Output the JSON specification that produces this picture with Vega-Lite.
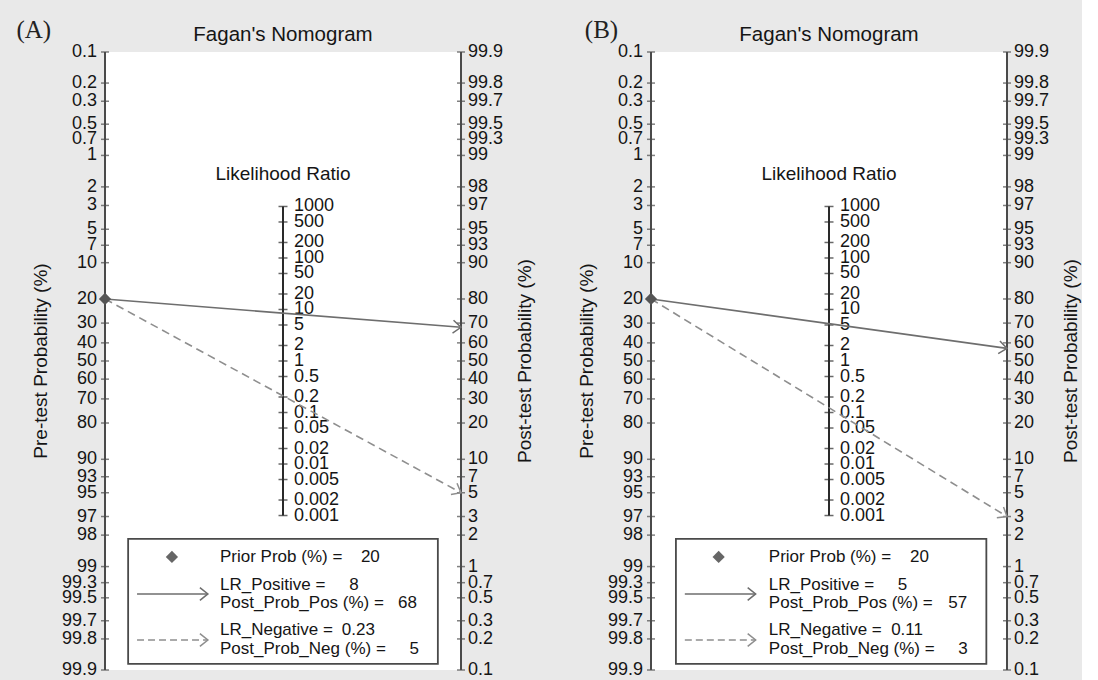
{
  "$schema": "https://vega.github.io/schema/vega-lite/v6.json",
  "padding": {"left": 16, "top": 18, "right": 0, "bottom": 0},
  "background": "#e9e9e9",
  "config": {"view": {"fill": "white", "stroke": null}, "font": "Liberation Sans"},
  "spacing": 41,
  "datasets": {
    "one": [{}],
    "probTicks": [{"p":0.1},{"p":0.2},{"p":0.3},{"p":0.5},{"p":0.7},{"p":1},{"p":2},{"p":3},{"p":5},{"p":7},{"p":10},{"p":20},{"p":30},{"p":40},{"p":50},{"p":60},{"p":70},{"p":80},{"p":90},{"p":93},{"p":95},{"p":97},{"p":98},{"p":99},{"p":99.3},{"p":99.5},{"p":99.7},{"p":99.8},{"p":99.9}],
    "lrTicks": [{"lr":1000},{"lr":500},{"lr":200},{"lr":100},{"lr":50},{"lr":20},{"lr":10},{"lr":5},{"lr":2},{"lr":1},{"lr":0.5},{"lr":0.2},{"lr":0.1},{"lr":0.05},{"lr":0.02},{"lr":0.01},{"lr":0.005},{"lr":0.002},{"lr":0.001}],
    "resA": [{"test":"pos","lr":8,"pre":20,"post":68},{"test":"neg","lr":0.23,"pre":20,"post":5}],
    "resB": [{"test":"pos","lr":5,"pre":20,"post":57},{"test":"neg","lr":0.11,"pre":20,"post":3}]
  },
  "hconcat": [
    {
      "width": 356, "height": 618,
      "layer": [
        {"data":{"name":"probTicks"},"transform":[{"calculate":"log(datum.p/(100-datum.p))","as":"v"}],
         "mark":{"type":"rule","color":"#4a4a4a","strokeWidth":2},
         "encoding":{"x":{"datum":0,"type":"quantitative","scale":{"domain":[0,1],"nice":false,"zero":false},"axis":null},
           "y":{"aggregate":"min","field":"v","type":"quantitative","scale":{"domain":[-6.90675,6.90675],"nice":false,"zero":false},"axis":null},
           "y2":{"aggregate":"max","field":"v"}}},
        {"data":{"name":"probTicks"},"transform":[{"calculate":"log(datum.p/(100-datum.p))","as":"v"}],
         "mark":{"type":"rule","color":"#4a4a4a","strokeWidth":2},
         "encoding":{"x":{"datum":1,"type":"quantitative","scale":{"domain":[0,1],"nice":false,"zero":false},"axis":null},
           "y":{"aggregate":"min","field":"v","type":"quantitative","scale":{"domain":[-6.90675,6.90675],"nice":false,"zero":false},"axis":null},
           "y2":{"aggregate":"max","field":"v"}}},
        {"data":{"name":"lrTicks"},"transform":[{"calculate":"log(datum.lr)/2","as":"v"}],
         "mark":{"type":"rule","color":"#2a2a2a","strokeWidth":2},
         "encoding":{"x":{"datum":0.5,"type":"quantitative","scale":{"domain":[0,1],"nice":false,"zero":false},"axis":null},
           "y":{"aggregate":"min","field":"v","type":"quantitative","scale":{"domain":[-6.90675,6.90675],"nice":false,"zero":false},"axis":null},
           "y2":{"aggregate":"max","field":"v"}}},
        {"data":{"name":"probTicks"},"transform":[{"calculate":"-log(datum.p/(100-datum.p))","as":"v"}],
         "mark":{"type":"tick","orient":"horizontal","size":8,"thickness":1.5,"color":"#4a4a4a"},
         "encoding":{"x":{"datum":0,"type":"quantitative","scale":{"domain":[0,1],"nice":false,"zero":false},"axis":null},
           "y":{"field":"v","type":"quantitative","scale":{"domain":[-6.90675,6.90675],"nice":false,"zero":false},"axis":null}}},
        {"data":{"name":"probTicks"},"transform":[{"calculate":"-log(datum.p/(100-datum.p))","as":"v"}],
         "mark":{"type":"text","align":"right","baseline":"middle","dx":-8,"fontSize":18,"color":"#151515"},
         "encoding":{"x":{"datum":0,"type":"quantitative","scale":{"domain":[0,1],"nice":false,"zero":false},"axis":null},
           "y":{"field":"v","type":"quantitative","scale":{"domain":[-6.90675,6.90675],"nice":false,"zero":false},"axis":null},
           "text":{"field":"p","type":"quantitative","format":".3~r"}}},
        {"data":{"name":"probTicks"},"transform":[{"calculate":"log(datum.p/(100-datum.p))","as":"v"}],
         "mark":{"type":"tick","orient":"horizontal","size":8,"thickness":1.5,"color":"#4a4a4a"},
         "encoding":{"x":{"datum":1,"type":"quantitative","scale":{"domain":[0,1],"nice":false,"zero":false},"axis":null},
           "y":{"field":"v","type":"quantitative","scale":{"domain":[-6.90675,6.90675],"nice":false,"zero":false},"axis":null}}},
        {"data":{"name":"probTicks"},"transform":[{"calculate":"log(datum.p/(100-datum.p))","as":"v"}],
         "mark":{"type":"text","align":"left","baseline":"middle","dx":7,"fontSize":18,"color":"#151515"},
         "encoding":{"x":{"datum":1,"type":"quantitative","scale":{"domain":[0,1],"nice":false,"zero":false},"axis":null},
           "y":{"field":"v","type":"quantitative","scale":{"domain":[-6.90675,6.90675],"nice":false,"zero":false},"axis":null},
           "text":{"field":"p","type":"quantitative","format":".3~r"}}},
        {"data":{"name":"lrTicks"},"transform":[{"calculate":"log(datum.lr)/2","as":"v"}],
         "mark":{"type":"tick","orient":"horizontal","size":9,"thickness":1.5,"color":"#2a2a2a"},
         "encoding":{"x":{"datum":0.5,"type":"quantitative","scale":{"domain":[0,1],"nice":false,"zero":false},"axis":null},
           "y":{"field":"v","type":"quantitative","scale":{"domain":[-6.90675,6.90675],"nice":false,"zero":false},"axis":null}}},
        {"data":{"name":"lrTicks"},"transform":[{"calculate":"log(datum.lr)/2","as":"v"}],
         "mark":{"type":"text","align":"left","baseline":"middle","dx":11,"fontSize":18,"color":"#151515"},
         "encoding":{"x":{"datum":0.5,"type":"quantitative","scale":{"domain":[0,1],"nice":false,"zero":false},"axis":null},
           "y":{"field":"v","type":"quantitative","scale":{"domain":[-6.90675,6.90675],"nice":false,"zero":false},"axis":null},
           "text":{"field":"lr","type":"quantitative","format":".3~r"}}},
        {"data":{"name":"one"},"mark":{"type":"text","align":"center","baseline":"middle","fontSize":19,"color":"#151515","text":"Likelihood Ratio"},
         "encoding":{"x":{"datum":0.5,"type":"quantitative","scale":{"domain":[0,1],"nice":false,"zero":false},"axis":null},
           "y":{"datum":4.18,"type":"quantitative","scale":{"domain":[-6.90675,6.90675],"nice":false,"zero":false},"axis":null}}},
        {"data":{"name":"one"},"mark":{"type":"text","align":"center","baseline":"middle","fontSize":20.5,"color":"#151515","text":"Fagan's Nomogram"},
         "encoding":{"x":{"datum":0.5,"type":"quantitative","scale":{"domain":[0,1],"nice":false,"zero":false},"axis":null},
           "y":{"datum":7.287,"type":"quantitative","scale":{"domain":[-6.90675,6.90675],"nice":false,"zero":false},"axis":null}}},
        {"data":{"name":"one"},"mark":{"type":"text","align":"center","baseline":"middle","fontSize":25,"font":"Liberation Serif","color":"#222222","text":"(A)"},
         "encoding":{"x":{"datum":-0.2,"type":"quantitative","scale":{"domain":[0,1],"nice":false,"zero":false},"axis":null},
           "y":{"datum":7.398,"type":"quantitative","scale":{"domain":[-6.90675,6.90675],"nice":false,"zero":false},"axis":null}}},
        {"data":{"name":"one"},"mark":{"type":"text","align":"center","baseline":"middle","fontSize":19,"angle":270,"color":"#151515","text":"Pre-test Probability (%)"},
         "encoding":{"x":{"datum":-0.18,"type":"quantitative","scale":{"domain":[0,1],"nice":false,"zero":false},"axis":null},
           "y":{"datum":0,"type":"quantitative","scale":{"domain":[-6.90675,6.90675],"nice":false,"zero":false},"axis":null}}},
        {"data":{"name":"one"},"mark":{"type":"text","align":"center","baseline":"middle","fontSize":19,"angle":270,"color":"#151515","text":"Post-test Probability (%)"},
         "encoding":{"x":{"datum":1.18,"type":"quantitative","scale":{"domain":[0,1],"nice":false,"zero":false},"axis":null},
           "y":{"datum":0,"type":"quantitative","scale":{"domain":[-6.90675,6.90675],"nice":false,"zero":false},"axis":null}}},
        {"data":{"name":"resA"},"transform":[{"filter":"datum.test=='pos'"},{"fold":["pre","post"],"as":["end","p"]},
           {"calculate":"datum.end=='pre' ? 0 : 1","as":"x"},
           {"calculate":"datum.end=='pre' ? -log(datum.p/(100-datum.p)) : log(datum.p/(100-datum.p))","as":"v"}],
         "mark":{"type":"line","color":"#6e6e6e","strokeWidth":1.6},
         "encoding":{"x":{"field":"x","type":"quantitative","scale":{"domain":[0,1],"nice":false,"zero":false},"axis":null},
           "y":{"field":"v","type":"quantitative","scale":{"domain":[-6.90675,6.90675],"nice":false,"zero":false},"axis":null}}},
        {"data":{"name":"resA"},"transform":[{"filter":"datum.test=='neg'"},{"fold":["pre","post"],"as":["end","p"]},
           {"calculate":"datum.end=='pre' ? 0 : 1","as":"x"},
           {"calculate":"datum.end=='pre' ? -log(datum.p/(100-datum.p)) : log(datum.p/(100-datum.p))","as":"v"}],
         "mark":{"type":"line","color":"#8e8e8e","strokeWidth":1.6,"strokeDash":[8,5]},
         "encoding":{"x":{"field":"x","type":"quantitative","scale":{"domain":[0,1],"nice":false,"zero":false},"axis":null},
           "y":{"field":"v","type":"quantitative","scale":{"domain":[-6.90675,6.90675],"nice":false,"zero":false},"axis":null}}},
        {"data":{"name":"resA"},"transform":[{"filter":"datum.test=='pos'"},{"calculate":"-log(datum.pre/(100-datum.pre))","as":"v"}],
         "mark":{"type":"point","shape":"diamond","filled":true,"size":150,"color":"#555555","opacity":1},
         "encoding":{"x":{"datum":0,"type":"quantitative","scale":{"domain":[0,1],"nice":false,"zero":false},"axis":null},
           "y":{"field":"v","type":"quantitative","scale":{"domain":[-6.90675,6.90675],"nice":false,"zero":false},"axis":null}}},
        {"data":{"name":"resA"},"transform":[{"filter":"datum.test=='pos'"},{"calculate":"log(datum.post/(100-datum.post))","as":"v"}],
         "mark":{"type":"point","shape":"M -1 -0.8 L 0 0 L -1 0.8","filled":false,"size":256,"color":"#6e6e6e","strokeWidth":1.5,"opacity":1,"angle":4.5},
         "encoding":{"x":{"datum":1,"type":"quantitative","scale":{"domain":[0,1],"nice":false,"zero":false},"axis":null},
           "y":{"field":"v","type":"quantitative","scale":{"domain":[-6.90675,6.90675],"nice":false,"zero":false},"axis":null}}},
        {"data":{"name":"resA"},"transform":[{"filter":"datum.test=='neg'"},{"calculate":"log(datum.post/(100-datum.post))","as":"v"}],
         "mark":{"type":"point","shape":"M -1 -0.8 L 0 0 L -1 0.8","filled":false,"size":256,"color":"#8e8e8e","strokeWidth":1.5,"opacity":1,"angle":28.5},
         "encoding":{"x":{"datum":1,"type":"quantitative","scale":{"domain":[0,1],"nice":false,"zero":false},"axis":null},
           "y":{"field":"v","type":"quantitative","scale":{"domain":[-6.90675,6.90675],"nice":false,"zero":false},"axis":null}}},
        {"data":{"name":"one"},"mark":{"type":"rect","fill":"white","stroke":"#4a4a4a","strokeWidth":1.8},
         "encoding":{"x":{"datum":0.065,"type":"quantitative","scale":{"domain":[0,1],"nice":false,"zero":false},"axis":null},
           "x2":{"datum":0.935},
           "y":{"datum":-3.978,"type":"quantitative","scale":{"domain":[-6.90675,6.90675],"nice":false,"zero":false},"axis":null},
           "y2":{"datum":-6.772}}},
        {"data":{"name":"one"},"mark":{"type":"point","shape":"diamond","filled":true,"size":150,"color":"#666666","opacity":1},
         "encoding":{"x":{"datum":0.188,"type":"quantitative","scale":{"domain":[0,1],"nice":false,"zero":false},"axis":null},
           "y":{"datum":-4.38,"type":"quantitative","scale":{"domain":[-6.90675,6.90675],"nice":false,"zero":false},"axis":null}}},
        {"data":{"name":"one"},"mark":{"type":"rule","color":"#6e6e6e","strokeWidth":1.6},
         "encoding":{"x":{"datum":0.09,"type":"quantitative","scale":{"domain":[0,1],"nice":false,"zero":false},"axis":null},
           "x2":{"datum":0.289},
           "y":{"datum":-5.207,"type":"quantitative","scale":{"domain":[-6.90675,6.90675],"nice":false,"zero":false},"axis":null}}},
        {"data":{"name":"one"},"mark":{"type":"point","shape":"M -1 -0.8 L 0 0 L -1 0.8","filled":false,"size":256,"color":"#6e6e6e","strokeWidth":1.5,"opacity":1},
         "encoding":{"x":{"datum":0.289,"type":"quantitative","scale":{"domain":[0,1],"nice":false,"zero":false},"axis":null},
           "y":{"datum":-5.207,"type":"quantitative","scale":{"domain":[-6.90675,6.90675],"nice":false,"zero":false},"axis":null}}},
        {"data":{"name":"one"},"mark":{"type":"rule","color":"#8e8e8e","strokeWidth":1.6,"strokeDash":[7,4]},
         "encoding":{"x":{"datum":0.09,"type":"quantitative","scale":{"domain":[0,1],"nice":false,"zero":false},"axis":null},
           "x2":{"datum":0.289},
           "y":{"datum":-6.236,"type":"quantitative","scale":{"domain":[-6.90675,6.90675],"nice":false,"zero":false},"axis":null}}},
        {"data":{"name":"one"},"mark":{"type":"point","shape":"M -1 -0.8 L 0 0 L -1 0.8","filled":false,"size":256,"color":"#8e8e8e","strokeWidth":1.5,"opacity":1},
         "encoding":{"x":{"datum":0.289,"type":"quantitative","scale":{"domain":[0,1],"nice":false,"zero":false},"axis":null},
           "y":{"datum":-6.236,"type":"quantitative","scale":{"domain":[-6.90675,6.90675],"nice":false,"zero":false},"axis":null}}},
        {"data":{"name":"one"},"mark":{"type":"text","align":"left","baseline":"middle","fontSize":17,"color":"#151515","text":"Prior Prob (%) ="},
         "encoding":{"x":{"datum":0.323,"type":"quantitative","scale":{"domain":[0,1],"nice":false,"zero":false},"axis":null},
           "y":{"datum":-4.38,"type":"quantitative","scale":{"domain":[-6.90675,6.90675],"nice":false,"zero":false},"axis":null}}},
        {"data":{"name":"one"},"mark":{"type":"text","align":"left","baseline":"middle","fontSize":17,"lineHeight":18,"color":"#151515","text":["LR_Positive =","Post_Prob_Pos (%) ="]},
         "encoding":{"x":{"datum":0.323,"type":"quantitative","scale":{"domain":[0,1],"nice":false,"zero":false},"axis":null},
           "y":{"datum":-5.006,"type":"quantitative","scale":{"domain":[-6.90675,6.90675],"nice":false,"zero":false},"axis":null}}},
        {"data":{"name":"one"},"mark":{"type":"text","align":"left","baseline":"middle","fontSize":17,"lineHeight":19,"color":"#151515","text":["LR_Negative =","Post_Prob_Neg (%) ="]},
         "encoding":{"x":{"datum":0.323,"type":"quantitative","scale":{"domain":[0,1],"nice":false,"zero":false},"axis":null},
           "y":{"datum":-6.013,"type":"quantitative","scale":{"domain":[-6.90675,6.90675],"nice":false,"zero":false},"axis":null}}},
        {"data":{"name":"resA"},"transform":[{"filter":"datum.test=='pos'"}],
         "mark":{"type":"text","align":"right","baseline":"middle","fontSize":17,"color":"#151515"},
         "encoding":{"x":{"datum":0.772,"type":"quantitative","scale":{"domain":[0,1],"nice":false,"zero":false},"axis":null},
           "y":{"datum":-4.38,"type":"quantitative","scale":{"domain":[-6.90675,6.90675],"nice":false,"zero":false},"axis":null},
           "text":{"field":"pre","type":"quantitative","format":".3~r"}}},
        {"data":{"name":"resA"},"transform":[{"filter":"datum.test=='pos'"}],
         "mark":{"type":"text","align":"right","baseline":"middle","fontSize":17,"color":"#151515"},
         "encoding":{"x":{"datum":0.713,"type":"quantitative","scale":{"domain":[0,1],"nice":false,"zero":false},"axis":null},
           "y":{"datum":-5.006,"type":"quantitative","scale":{"domain":[-6.90675,6.90675],"nice":false,"zero":false},"axis":null},
           "text":{"field":"lr","type":"quantitative","format":".3~r"}}},
        {"data":{"name":"resA"},"transform":[{"filter":"datum.test=='pos'"}],
         "mark":{"type":"text","align":"right","baseline":"middle","fontSize":17,"color":"#151515"},
         "encoding":{"x":{"datum":0.876,"type":"quantitative","scale":{"domain":[0,1],"nice":false,"zero":false},"axis":null},
           "y":{"datum":-5.409,"type":"quantitative","scale":{"domain":[-6.90675,6.90675],"nice":false,"zero":false},"axis":null},
           "text":{"field":"post","type":"quantitative","format":".3~r"}}},
        {"data":{"name":"resA"},"transform":[{"filter":"datum.test=='neg'"}],
         "mark":{"type":"text","align":"right","baseline":"middle","fontSize":17,"color":"#151515"},
         "encoding":{"x":{"datum":0.758,"type":"quantitative","scale":{"domain":[0,1],"nice":false,"zero":false},"axis":null},
           "y":{"datum":-6.013,"type":"quantitative","scale":{"domain":[-6.90675,6.90675],"nice":false,"zero":false},"axis":null},
           "text":{"field":"lr","type":"quantitative","format":".3~r"}}},
        {"data":{"name":"resA"},"transform":[{"filter":"datum.test=='neg'"}],
         "mark":{"type":"text","align":"right","baseline":"middle","fontSize":17,"color":"#151515"},
         "encoding":{"x":{"datum":0.882,"type":"quantitative","scale":{"domain":[0,1],"nice":false,"zero":false},"axis":null},
           "y":{"datum":-6.428,"type":"quantitative","scale":{"domain":[-6.90675,6.90675],"nice":false,"zero":false},"axis":null},
           "text":{"field":"post","type":"quantitative","format":".3~r"}}}
      ]
    },
    {
      "width": 356, "height": 618,
      "layer": [
        {"data":{"name":"probTicks"},"transform":[{"calculate":"log(datum.p/(100-datum.p))","as":"v"}],
         "mark":{"type":"rule","color":"#4a4a4a","strokeWidth":2},
         "encoding":{"x":{"datum":0,"type":"quantitative","scale":{"domain":[0,1],"nice":false,"zero":false},"axis":null},
           "y":{"aggregate":"min","field":"v","type":"quantitative","scale":{"domain":[-6.90675,6.90675],"nice":false,"zero":false},"axis":null},
           "y2":{"aggregate":"max","field":"v"}}},
        {"data":{"name":"probTicks"},"transform":[{"calculate":"log(datum.p/(100-datum.p))","as":"v"}],
         "mark":{"type":"rule","color":"#4a4a4a","strokeWidth":2},
         "encoding":{"x":{"datum":1,"type":"quantitative","scale":{"domain":[0,1],"nice":false,"zero":false},"axis":null},
           "y":{"aggregate":"min","field":"v","type":"quantitative","scale":{"domain":[-6.90675,6.90675],"nice":false,"zero":false},"axis":null},
           "y2":{"aggregate":"max","field":"v"}}},
        {"data":{"name":"lrTicks"},"transform":[{"calculate":"log(datum.lr)/2","as":"v"}],
         "mark":{"type":"rule","color":"#2a2a2a","strokeWidth":2},
         "encoding":{"x":{"datum":0.5,"type":"quantitative","scale":{"domain":[0,1],"nice":false,"zero":false},"axis":null},
           "y":{"aggregate":"min","field":"v","type":"quantitative","scale":{"domain":[-6.90675,6.90675],"nice":false,"zero":false},"axis":null},
           "y2":{"aggregate":"max","field":"v"}}},
        {"data":{"name":"probTicks"},"transform":[{"calculate":"-log(datum.p/(100-datum.p))","as":"v"}],
         "mark":{"type":"tick","orient":"horizontal","size":8,"thickness":1.5,"color":"#4a4a4a"},
         "encoding":{"x":{"datum":0,"type":"quantitative","scale":{"domain":[0,1],"nice":false,"zero":false},"axis":null},
           "y":{"field":"v","type":"quantitative","scale":{"domain":[-6.90675,6.90675],"nice":false,"zero":false},"axis":null}}},
        {"data":{"name":"probTicks"},"transform":[{"calculate":"-log(datum.p/(100-datum.p))","as":"v"}],
         "mark":{"type":"text","align":"right","baseline":"middle","dx":-8,"fontSize":18,"color":"#151515"},
         "encoding":{"x":{"datum":0,"type":"quantitative","scale":{"domain":[0,1],"nice":false,"zero":false},"axis":null},
           "y":{"field":"v","type":"quantitative","scale":{"domain":[-6.90675,6.90675],"nice":false,"zero":false},"axis":null},
           "text":{"field":"p","type":"quantitative","format":".3~r"}}},
        {"data":{"name":"probTicks"},"transform":[{"calculate":"log(datum.p/(100-datum.p))","as":"v"}],
         "mark":{"type":"tick","orient":"horizontal","size":8,"thickness":1.5,"color":"#4a4a4a"},
         "encoding":{"x":{"datum":1,"type":"quantitative","scale":{"domain":[0,1],"nice":false,"zero":false},"axis":null},
           "y":{"field":"v","type":"quantitative","scale":{"domain":[-6.90675,6.90675],"nice":false,"zero":false},"axis":null}}},
        {"data":{"name":"probTicks"},"transform":[{"calculate":"log(datum.p/(100-datum.p))","as":"v"}],
         "mark":{"type":"text","align":"left","baseline":"middle","dx":7,"fontSize":18,"color":"#151515"},
         "encoding":{"x":{"datum":1,"type":"quantitative","scale":{"domain":[0,1],"nice":false,"zero":false},"axis":null},
           "y":{"field":"v","type":"quantitative","scale":{"domain":[-6.90675,6.90675],"nice":false,"zero":false},"axis":null},
           "text":{"field":"p","type":"quantitative","format":".3~r"}}},
        {"data":{"name":"lrTicks"},"transform":[{"calculate":"log(datum.lr)/2","as":"v"}],
         "mark":{"type":"tick","orient":"horizontal","size":9,"thickness":1.5,"color":"#2a2a2a"},
         "encoding":{"x":{"datum":0.5,"type":"quantitative","scale":{"domain":[0,1],"nice":false,"zero":false},"axis":null},
           "y":{"field":"v","type":"quantitative","scale":{"domain":[-6.90675,6.90675],"nice":false,"zero":false},"axis":null}}},
        {"data":{"name":"lrTicks"},"transform":[{"calculate":"log(datum.lr)/2","as":"v"}],
         "mark":{"type":"text","align":"left","baseline":"middle","dx":11,"fontSize":18,"color":"#151515"},
         "encoding":{"x":{"datum":0.5,"type":"quantitative","scale":{"domain":[0,1],"nice":false,"zero":false},"axis":null},
           "y":{"field":"v","type":"quantitative","scale":{"domain":[-6.90675,6.90675],"nice":false,"zero":false},"axis":null},
           "text":{"field":"lr","type":"quantitative","format":".3~r"}}},
        {"data":{"name":"one"},"mark":{"type":"text","align":"center","baseline":"middle","fontSize":19,"color":"#151515","text":"Likelihood Ratio"},
         "encoding":{"x":{"datum":0.5,"type":"quantitative","scale":{"domain":[0,1],"nice":false,"zero":false},"axis":null},
           "y":{"datum":4.18,"type":"quantitative","scale":{"domain":[-6.90675,6.90675],"nice":false,"zero":false},"axis":null}}},
        {"data":{"name":"one"},"mark":{"type":"text","align":"center","baseline":"middle","fontSize":20.5,"color":"#151515","text":"Fagan's Nomogram"},
         "encoding":{"x":{"datum":0.5,"type":"quantitative","scale":{"domain":[0,1],"nice":false,"zero":false},"axis":null},
           "y":{"datum":7.287,"type":"quantitative","scale":{"domain":[-6.90675,6.90675],"nice":false,"zero":false},"axis":null}}},
        {"data":{"name":"one"},"mark":{"type":"text","align":"center","baseline":"middle","fontSize":25,"font":"Liberation Serif","color":"#222222","text":"(B)"},
         "encoding":{"x":{"datum":-0.139,"type":"quantitative","scale":{"domain":[0,1],"nice":false,"zero":false},"axis":null},
           "y":{"datum":7.398,"type":"quantitative","scale":{"domain":[-6.90675,6.90675],"nice":false,"zero":false},"axis":null}}},
        {"data":{"name":"one"},"mark":{"type":"text","align":"center","baseline":"middle","fontSize":19,"angle":270,"color":"#151515","text":"Pre-test Probability (%)"},
         "encoding":{"x":{"datum":-0.18,"type":"quantitative","scale":{"domain":[0,1],"nice":false,"zero":false},"axis":null},
           "y":{"datum":0,"type":"quantitative","scale":{"domain":[-6.90675,6.90675],"nice":false,"zero":false},"axis":null}}},
        {"data":{"name":"one"},"mark":{"type":"text","align":"center","baseline":"middle","fontSize":19,"angle":270,"color":"#151515","text":"Post-test Probability (%)"},
         "encoding":{"x":{"datum":1.18,"type":"quantitative","scale":{"domain":[0,1],"nice":false,"zero":false},"axis":null},
           "y":{"datum":0,"type":"quantitative","scale":{"domain":[-6.90675,6.90675],"nice":false,"zero":false},"axis":null}}},
        {"data":{"name":"resB"},"transform":[{"filter":"datum.test=='pos'"},{"fold":["pre","post"],"as":["end","p"]},
           {"calculate":"datum.end=='pre' ? 0 : 1","as":"x"},
           {"calculate":"datum.end=='pre' ? -log(datum.p/(100-datum.p)) : log(datum.p/(100-datum.p))","as":"v"}],
         "mark":{"type":"line","color":"#6e6e6e","strokeWidth":1.6},
         "encoding":{"x":{"field":"x","type":"quantitative","scale":{"domain":[0,1],"nice":false,"zero":false},"axis":null},
           "y":{"field":"v","type":"quantitative","scale":{"domain":[-6.90675,6.90675],"nice":false,"zero":false},"axis":null}}},
        {"data":{"name":"resB"},"transform":[{"filter":"datum.test=='neg'"},{"fold":["pre","post"],"as":["end","p"]},
           {"calculate":"datum.end=='pre' ? 0 : 1","as":"x"},
           {"calculate":"datum.end=='pre' ? -log(datum.p/(100-datum.p)) : log(datum.p/(100-datum.p))","as":"v"}],
         "mark":{"type":"line","color":"#8e8e8e","strokeWidth":1.6,"strokeDash":[8,5]},
         "encoding":{"x":{"field":"x","type":"quantitative","scale":{"domain":[0,1],"nice":false,"zero":false},"axis":null},
           "y":{"field":"v","type":"quantitative","scale":{"domain":[-6.90675,6.90675],"nice":false,"zero":false},"axis":null}}},
        {"data":{"name":"resB"},"transform":[{"filter":"datum.test=='pos'"},{"calculate":"-log(datum.pre/(100-datum.pre))","as":"v"}],
         "mark":{"type":"point","shape":"diamond","filled":true,"size":150,"color":"#555555","opacity":1},
         "encoding":{"x":{"datum":0,"type":"quantitative","scale":{"domain":[0,1],"nice":false,"zero":false},"axis":null},
           "y":{"field":"v","type":"quantitative","scale":{"domain":[-6.90675,6.90675],"nice":false,"zero":false},"axis":null}}},
        {"data":{"name":"resB"},"transform":[{"filter":"datum.test=='pos'"},{"calculate":"log(datum.post/(100-datum.post))","as":"v"}],
         "mark":{"type":"point","shape":"M -1 -0.8 L 0 0 L -1 0.8","filled":false,"size":256,"color":"#6e6e6e","strokeWidth":1.5,"opacity":1,"angle":7.9},
         "encoding":{"x":{"datum":1,"type":"quantitative","scale":{"domain":[0,1],"nice":false,"zero":false},"axis":null},
           "y":{"field":"v","type":"quantitative","scale":{"domain":[-6.90675,6.90675],"nice":false,"zero":false},"axis":null}}},
        {"data":{"name":"resB"},"transform":[{"filter":"datum.test=='neg'"},{"calculate":"log(datum.post/(100-datum.post))","as":"v"}],
         "mark":{"type":"point","shape":"M -1 -0.8 L 0 0 L -1 0.8","filled":false,"size":256,"color":"#8e8e8e","strokeWidth":1.5,"opacity":1,"angle":31.4},
         "encoding":{"x":{"datum":1,"type":"quantitative","scale":{"domain":[0,1],"nice":false,"zero":false},"axis":null},
           "y":{"field":"v","type":"quantitative","scale":{"domain":[-6.90675,6.90675],"nice":false,"zero":false},"axis":null}}},
        {"data":{"name":"one"},"mark":{"type":"rect","fill":"white","stroke":"#4a4a4a","strokeWidth":1.8},
         "encoding":{"x":{"datum":0.07,"type":"quantitative","scale":{"domain":[0,1],"nice":false,"zero":false},"axis":null},
           "x2":{"datum":0.942},
           "y":{"datum":-3.978,"type":"quantitative","scale":{"domain":[-6.90675,6.90675],"nice":false,"zero":false},"axis":null},
           "y2":{"datum":-6.772}}},
        {"data":{"name":"one"},"mark":{"type":"point","shape":"diamond","filled":true,"size":150,"color":"#666666","opacity":1},
         "encoding":{"x":{"datum":0.19,"type":"quantitative","scale":{"domain":[0,1],"nice":false,"zero":false},"axis":null},
           "y":{"datum":-4.38,"type":"quantitative","scale":{"domain":[-6.90675,6.90675],"nice":false,"zero":false},"axis":null}}},
        {"data":{"name":"one"},"mark":{"type":"rule","color":"#6e6e6e","strokeWidth":1.6},
         "encoding":{"x":{"datum":0.095,"type":"quantitative","scale":{"domain":[0,1],"nice":false,"zero":false},"axis":null},
           "x2":{"datum":0.294},
           "y":{"datum":-5.207,"type":"quantitative","scale":{"domain":[-6.90675,6.90675],"nice":false,"zero":false},"axis":null}}},
        {"data":{"name":"one"},"mark":{"type":"point","shape":"M -1 -0.8 L 0 0 L -1 0.8","filled":false,"size":256,"color":"#6e6e6e","strokeWidth":1.5,"opacity":1},
         "encoding":{"x":{"datum":0.294,"type":"quantitative","scale":{"domain":[0,1],"nice":false,"zero":false},"axis":null},
           "y":{"datum":-5.207,"type":"quantitative","scale":{"domain":[-6.90675,6.90675],"nice":false,"zero":false},"axis":null}}},
        {"data":{"name":"one"},"mark":{"type":"rule","color":"#8e8e8e","strokeWidth":1.6,"strokeDash":[7,4]},
         "encoding":{"x":{"datum":0.095,"type":"quantitative","scale":{"domain":[0,1],"nice":false,"zero":false},"axis":null},
           "x2":{"datum":0.294},
           "y":{"datum":-6.236,"type":"quantitative","scale":{"domain":[-6.90675,6.90675],"nice":false,"zero":false},"axis":null}}},
        {"data":{"name":"one"},"mark":{"type":"point","shape":"M -1 -0.8 L 0 0 L -1 0.8","filled":false,"size":256,"color":"#8e8e8e","strokeWidth":1.5,"opacity":1},
         "encoding":{"x":{"datum":0.294,"type":"quantitative","scale":{"domain":[0,1],"nice":false,"zero":false},"axis":null},
           "y":{"datum":-6.236,"type":"quantitative","scale":{"domain":[-6.90675,6.90675],"nice":false,"zero":false},"axis":null}}},
        {"data":{"name":"one"},"mark":{"type":"text","align":"left","baseline":"middle","fontSize":17,"color":"#151515","text":"Prior Prob (%) ="},
         "encoding":{"x":{"datum":0.331,"type":"quantitative","scale":{"domain":[0,1],"nice":false,"zero":false},"axis":null},
           "y":{"datum":-4.38,"type":"quantitative","scale":{"domain":[-6.90675,6.90675],"nice":false,"zero":false},"axis":null}}},
        {"data":{"name":"one"},"mark":{"type":"text","align":"left","baseline":"middle","fontSize":17,"lineHeight":18,"color":"#151515","text":["LR_Positive =","Post_Prob_Pos (%) ="]},
         "encoding":{"x":{"datum":0.331,"type":"quantitative","scale":{"domain":[0,1],"nice":false,"zero":false},"axis":null},
           "y":{"datum":-5.006,"type":"quantitative","scale":{"domain":[-6.90675,6.90675],"nice":false,"zero":false},"axis":null}}},
        {"data":{"name":"one"},"mark":{"type":"text","align":"left","baseline":"middle","fontSize":17,"lineHeight":19,"color":"#151515","text":["LR_Negative =","Post_Prob_Neg (%) ="]},
         "encoding":{"x":{"datum":0.331,"type":"quantitative","scale":{"domain":[0,1],"nice":false,"zero":false},"axis":null},
           "y":{"datum":-6.013,"type":"quantitative","scale":{"domain":[-6.90675,6.90675],"nice":false,"zero":false},"axis":null}}},
        {"data":{"name":"resB"},"transform":[{"filter":"datum.test=='pos'"}],
         "mark":{"type":"text","align":"right","baseline":"middle","fontSize":17,"color":"#151515"},
         "encoding":{"x":{"datum":0.781,"type":"quantitative","scale":{"domain":[0,1],"nice":false,"zero":false},"axis":null},
           "y":{"datum":-4.38,"type":"quantitative","scale":{"domain":[-6.90675,6.90675],"nice":false,"zero":false},"axis":null},
           "text":{"field":"pre","type":"quantitative","format":".3~r"}}},
        {"data":{"name":"resB"},"transform":[{"filter":"datum.test=='pos'"}],
         "mark":{"type":"text","align":"right","baseline":"middle","fontSize":17,"color":"#151515"},
         "encoding":{"x":{"datum":0.72,"type":"quantitative","scale":{"domain":[0,1],"nice":false,"zero":false},"axis":null},
           "y":{"datum":-5.006,"type":"quantitative","scale":{"domain":[-6.90675,6.90675],"nice":false,"zero":false},"axis":null},
           "text":{"field":"lr","type":"quantitative","format":".3~r"}}},
        {"data":{"name":"resB"},"transform":[{"filter":"datum.test=='pos'"}],
         "mark":{"type":"text","align":"right","baseline":"middle","fontSize":17,"color":"#151515"},
         "encoding":{"x":{"datum":0.888,"type":"quantitative","scale":{"domain":[0,1],"nice":false,"zero":false},"axis":null},
           "y":{"datum":-5.409,"type":"quantitative","scale":{"domain":[-6.90675,6.90675],"nice":false,"zero":false},"axis":null},
           "text":{"field":"post","type":"quantitative","format":".3~r"}}},
        {"data":{"name":"resB"},"transform":[{"filter":"datum.test=='neg'"}],
         "mark":{"type":"text","align":"right","baseline":"middle","fontSize":17,"color":"#151515"},
         "encoding":{"x":{"datum":0.764,"type":"quantitative","scale":{"domain":[0,1],"nice":false,"zero":false},"axis":null},
           "y":{"datum":-6.013,"type":"quantitative","scale":{"domain":[-6.90675,6.90675],"nice":false,"zero":false},"axis":null},
           "text":{"field":"lr","type":"quantitative","format":".3~r"}}},
        {"data":{"name":"resB"},"transform":[{"filter":"datum.test=='neg'"}],
         "mark":{"type":"text","align":"right","baseline":"middle","fontSize":17,"color":"#151515"},
         "encoding":{"x":{"datum":0.89,"type":"quantitative","scale":{"domain":[0,1],"nice":false,"zero":false},"axis":null},
           "y":{"datum":-6.428,"type":"quantitative","scale":{"domain":[-6.90675,6.90675],"nice":false,"zero":false},"axis":null},
           "text":{"field":"post","type":"quantitative","format":".3~r"}}}
      ]
    }
  ]
}
